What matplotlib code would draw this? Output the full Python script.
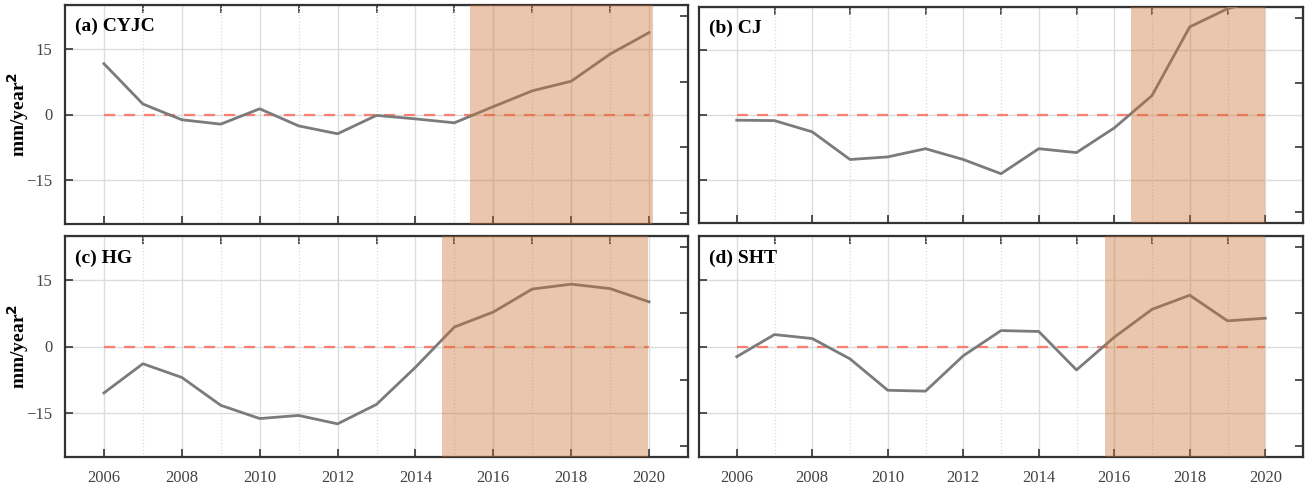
import matplotlib.pyplot as plt

plt.rcParams['font.family'] = ['Liberation Serif', 'DejaVu Serif']

# data
years = list(range(2006, 2021))
titles = ['(a) CYJC', '(b) CJ', '(c) HG', '(d) SHT']
cyjc = [11.6, 2.4, -1.2, -2.2, 1.3, -2.6, -4.4, -0.2, -1.0, -1.9, 1.8, 5.4, 7.6, 13.8, 18.7]
cj = [-1.2, -1.3, -3.9, -10.3, -9.7, -7.8, -10.3, -13.6, -7.8, -8.7, -3.0, 4.5, 20.4, 24.6, 27.0]
hg = [-10.5, -3.9, -7.0, -13.3, -16.3, -15.6, -17.5, -13.1, -4.7, 4.4, 7.8, 13.0, 14.1, 13.1, 10.1]
sht = [-2.3, 2.7, 1.8, -2.8, -9.9, -10.1, -2.1, 3.6, 3.4, -5.3, 2.1, 8.4, 11.6, 5.8, 6.4]
shade_start = [2015.4, 2016.45, 2014.67, 2015.75]
shade_end = [2020.1, 2020.0, 2019.97, 2020.0]
series = [cyjc, cj, hg, sht]

fig = plt.figure(figsize=(13.08, 4.84), dpi=100)
W, H = 1308, 484
# axes boxes in pixels: left, top, right, bottom
boxes = [(65, 5, 688, 224), (699, 7, 1303, 223),
         (65, 236, 688, 457), (699, 236, 1303, 457)]

for i, (vals, title) in enumerate(zip(series, titles)):
    l, t, r, b = boxes[i]
    ax = fig.add_axes([l / W, 1 - b / H, (r - l) / W, (b - t) / H])

    ax.plot(years, vals, color='#7b7b7b', lw=2.0, zorder=3)
    ax.plot([years[0], years[-1]], [0, 0], color='#ff6b5e', lw=1.6,
            ls=(0, (5, 4)), alpha=0.85, zorder=2)
    ax.axvspan(shade_start[i], shade_end[i], color='#c87232', alpha=0.4,
               lw=0, zorder=4)

    ax.set_xlim(2005, 2021)
    ax.set_ylim(-25, 25)
    ax.set_xticks(range(2006, 2021, 2))
    ax.set_xticks(range(2007, 2021, 2), minor=True)
    ax.set_yticks([-15, 0, 15])
    ax.grid(which='major', color='#dcdcdc', lw=1.0, zorder=1)
    ax.grid(which='minor', axis='x', color='#dcdcdc', lw=0.9, ls=':', zorder=1)
    ax.tick_params(which='major', direction='in', length=6, width=1.2,
                   labelsize=12, colors='#333333', labelcolor='#444444')
    ax.tick_params(which='minor', length=0)
    for sp in ax.spines.values():
        sp.set_linewidth(1.6)
        sp.set_color('#333333')

    top = ax.secondary_xaxis('top')
    top.set_xticks(range(2007, 2021, 2))
    top.tick_params(direction='in', length=6, width=1.2, labeltop=False,
                    colors='#333333')
    right = ax.secondary_yaxis('right')
    right.set_yticks([-22.5, -7.5, 7.5, 22.5])
    right.tick_params(direction='in', length=6, width=1.2, labelright=False,
                      colors='#333333')

    if i < 2:
        ax.set_xticklabels([])
    else:
        ax.tick_params(axis='x', pad=9)
    if i % 2 == 1:
        ax.set_yticklabels([])
    else:
        ax.set_ylabel('mm/year$^\\mathbf{2}$', fontsize=14, fontweight='bold',
                      va='center')
        ax.yaxis.set_label_coords(-0.076, 0.5)
        ax.tick_params(axis='y', pad=9)

    ax.text(0.016, 0.94, title, transform=ax.transAxes, fontsize=14,
            fontweight='bold', va='top', ha='left', zorder=5)

fig.savefig('out.png', dpi=100)
